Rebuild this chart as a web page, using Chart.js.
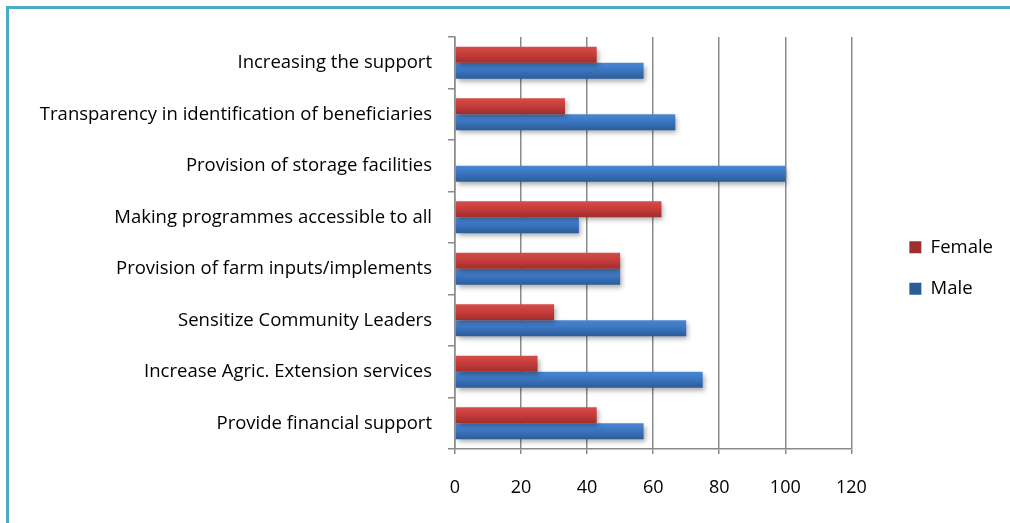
<!DOCTYPE html>
<html>
<head>
    <title>Suggestions by Gender</title>
    <script src="https://cdn.jsdelivr.net/npm/chart.js"></script>
    <style>
        body {
            margin: 0;
            background: #fff;
        }
        .frame {
            position: absolute;
            left: 6px;
            top: 6px;
            width: 1004px;
            height: 517px;
            border-top: 3px solid #4bacc6;
            border-left: 3px solid #4bacc6;
        }
        .wrap {
            position: absolute;
            left: 0;
            top: 0;
            width: 1010px;
            height: 523px;
        }
    </style>
</head>
<body>
    <div class="frame"></div>
    <div class="wrap"><canvas id="chart"></canvas></div>

    <script>
        const categories = [
            'Increasing the support',
            'Transparency in identification of beneficiaries',
            'Provision of storage facilities',
            'Making programmes accessible to all',
            'Provision of farm inputs/implements',
            'Sensitize Community Leaders',
            'Increase Agric. Extension services',
            'Provide financial support'
        ];
        const female = [42.9, 33.3, 0, 62.5, 50, 30, 25, 42.9];
        const male = [57.1, 66.7, 100, 37.5, 50, 70, 75, 57.1];
        const xTicks = [0, 20, 40, 60, 80, 100, 120];

        const FONT = 'Open Sans';

        // vertical shading on each bar, like the old office-style bars
        function shaded(top, mid, bottom) {
            return function (ctx) {
                const el = ctx.element;
                if (!el || el.y === undefined || !el.height) return mid;
                const y0 = el.y - el.height / 2;
                const g = ctx.chart.ctx.createLinearGradient(0, y0, 0, y0 + el.height);
                g.addColorStop(0, top);
                g.addColorStop(0.45, mid);
                g.addColorStop(1, bottom);
                return g;
            };
        }

        // drop shadow under the bars
        const barShadow = {
            id: 'barShadow',
            beforeDatasetsDraw(chart) {
                const c = chart.ctx;
                c.save();
                c.shadowColor = 'rgba(0,0,0,0.35)';
                c.shadowBlur = 5;
                c.shadowOffsetX = 2;
                c.shadowOffsetY = 3;
            },
            afterDatasetsDraw(chart) {
                chart.ctx.restore();
            }
        };

        // push the legend a bit further from the plot and up
        const legendNudge = {
            id: 'legendNudge',
            afterLayout(chart) {
                const lg = chart.legend;
                lg.left += 35;
                lg.right += 35;
                lg.top -= 12;
                lg.bottom -= 12;
            }
        };

        const chart = new Chart(document.getElementById('chart'), {
            type: 'bar',
            data: {
                labels: categories,
                datasets: [
                    {
                        label: 'Female',
                        data: female,
                        backgroundColor: shaded('#d64c49', '#c63d3b', '#a02e2c')
                    },
                    {
                        label: 'Male',
                        data: male,
                        backgroundColor: shaded('#4a87d2', '#3b76c2', '#2c5c98')
                    }
                ]
            },
            options: {
                indexAxis: 'y',
                responsive: true,
                maintainAspectRatio: false,
                animation: false,
                categoryPercentage: 0.62,
                barPercentage: 1,
                layout: {
                    padding: { top: 37, right: 42, bottom: 0, left: 0 }
                },
                plugins: {
                    legend: {
                        position: 'right',
                        labels: {
                            boxWidth: 12,
                            boxHeight: 12,
                            padding: 23,
                            color: '#000',
                            font: { family: FONT, size: 18.5 }
                        }
                    },
                    tooltip: { enabled: false }
                },
                scales: {
                    x: {
                        min: 0,
                        max: 120,
                        afterBuildTicks(scale) {
                            scale.ticks = xTicks.map(v => ({ value: v }));
                        },
                        afterFit(scale) { scale.height = 74; },
                        grid: {
                            color: '#8a8a8a',
                            lineWidth: 1.5,
                            tickLength: 5,
                            tickColor: '#8a8a8a'
                        },
                        border: { color: '#8a8a8a', width: 1.5 },
                        ticks: {
                            padding: 23,
                            color: '#000',
                            font: { family: FONT, size: 18 }
                        }
                    },
                    y: {
                        afterFit(scale) { scale.width = 455; },
                        grid: {
                            drawOnChartArea: false,
                            offset: true,
                            tickLength: 7,
                            color: '#8a8a8a',
                            lineWidth: 1.5
                        },
                        border: { color: '#8a8a8a', width: 1.5 },
                        ticks: {
                            padding: 16,
                            color: '#000',
                            font: { family: FONT, size: 18.5 }
                        }
                    }
                }
            },
            plugins: [barShadow, legendNudge]
        });
        // second pass so the gradients know where each bar sits
        chart.update();
    </script>
</body>
</html>
